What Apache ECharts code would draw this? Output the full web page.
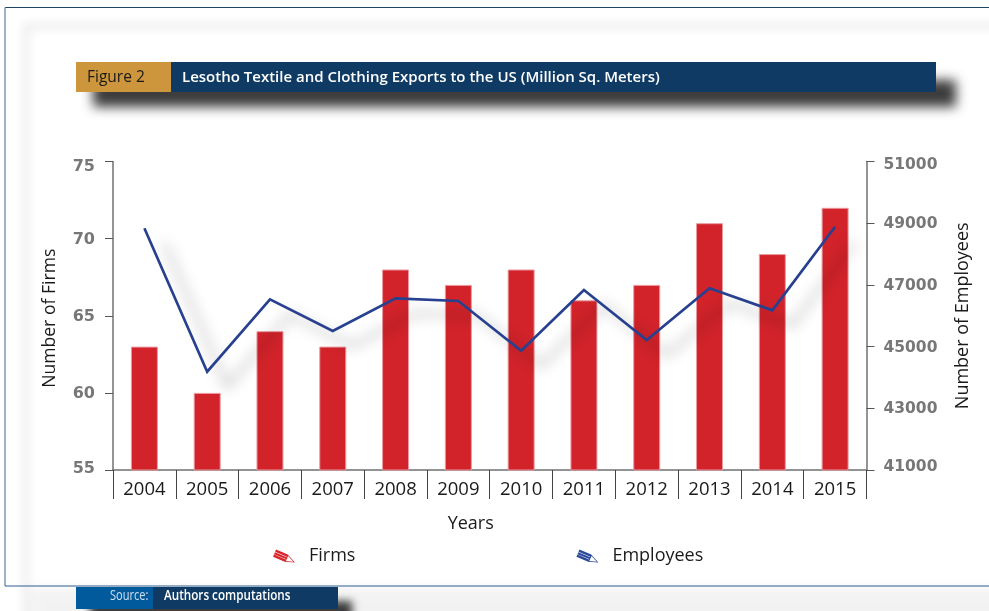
<!DOCTYPE html>
<html>
<head>
<meta charset="utf-8">
<style>html,body{margin:0;padding:0;background:#fff}#c{width:989px;height:611px}</style>
<script src="https://cdn.jsdelivr.net/npm/echarts@6/dist/echarts.min.js"></script>
</head>
<body>
<div id="c"></div>
<script>
const years = ['2004','2005','2006','2007','2008','2009','2010','2011','2012','2013','2014','2015'];
const firms = [63,60,64,63,68,67,68,66,67,71,69,72];
const employees = [48835,44186,46533,45505,46565,46478,44867,46835,45214,46890,46176,48887];
const firmTicks = {min:55,max:75,interval:5};
const employeeTicks = {min:41000,max:51000,interval:2000};

const textFont = '"Open Sans","Noto Sans",sans-serif';
const tickFont = '"DejaVu Sans"';
const navy = '#0f3a63';

// Slanted pencil: three body stripes, then the tip as a triangular ring
const pencil = 'path://M3.56 .82L15.56 5.92L14.585 8.22L2.585 3.12Z' +
  'M2.43 3.49L14.43 8.59L13.57 10.61L1.57 5.51Z' +
  'M1.415 5.88L13.415 10.98L12.44 13.28L.44 8.18Z' +
  'M15.56 5.92L23 14L12.44 13.28ZM15.96 7.36L13.72 12.66L21.32 13.18Z';

// The end labels sit slightly inside the plot, the rest on their ticks
function tickLabel(axis) {
  return function (value) {
    if (value === axis.max) return '{top|' + value + '}';
    if (value === axis.min) return '{bottom|' + value + '}';
    return '{mid|' + value + '}';
  };
}
function tickRich(size, topPad, bottomPad) {
  const base = {fontFamily:tickFont,fontWeight:'bold',fontSize:size,color:'#777'};
  return {
    top:{...base,padding:[topPad,0,0,0]},
    bottom:{...base,padding:[0,0,bottomPad,0]},
    mid:{...base,padding:[2,0,0,0]}
  };
}

const chart = echarts.init(document.getElementById('c'), null, {renderer:'canvas'});
chart.setOption({
  animation:false,
  backgroundColor:'#fff',
  grid:{left:113,right:122.5,top:161.5,bottom:141,containLabel:false},
  legend:{
    left:268,top:542,itemWidth:22,itemHeight:13,itemGap:221,
    textStyle:{fontFamily:textFont,fontSize:18,color:'#1a1a1a',padding:[0,0,0,9]},
    data:[
      {name:'Firms',icon:pencil,itemStyle:{color:'#d8262e',borderWidth:0}},
      {name:'Employees',icon:pencil,itemStyle:{color:'#2c4a9c',borderWidth:0}}
    ]
  },
  xAxis:{
    type:'category',data:years,
    name:'Years',nameLocation:'middle',nameGap:45,
    nameTextStyle:{fontFamily:textFont,fontSize:18,color:'#1a1a1a',padding:[0,38,0,0]},
    axisLine:{lineStyle:{color:'#707070',width:1.5}},
    axisTick:{show:true,length:29,alignWithLabel:false,lineStyle:{color:'#444',width:1}},
    axisLabel:{interval:0,margin:10,fontFamily:textFont,fontSize:18.5,color:'#1a1a1a'}
  },
  yAxis:[
    {type:'value',...firmTicks,position:'left',
     name:'Number of Firms',nameLocation:'middle',nameGap:54,nameRotate:90,
     nameTextStyle:{fontFamily:textFont,fontSize:17.6,color:'#1a1a1a',padding:[0,5,0,0]},
     splitLine:{show:false},
     axisLine:{show:true,lineStyle:{color:'#707070',width:1.5}},
     axisTick:{show:true,length:8,lineStyle:{color:'#555'}},
     axisLabel:{margin:18,formatter:tickLabel(firmTicks),rich:tickRich(16,10,2)}},
    {type:'value',...employeeTicks,position:'right',
     name:'Number of Employees',nameLocation:'middle',nameGap:87,nameRotate:90,
     nameTextStyle:{fontFamily:textFont,fontSize:18,color:'#1a1a1a'},
     splitLine:{show:false},
     axisLine:{show:true,lineStyle:{color:'#707070',width:1.5}},
     axisTick:{show:true,length:8,lineStyle:{color:'#555'}},
     axisLabel:{margin:17,formatter:tickLabel(employeeTicks),rich:tickRich(15.5,7,6)}}
  ],
  series:[
    {name:'Firms',type:'bar',data:firms,yAxisIndex:0,barWidth:27,
     itemStyle:{color:'#d2232a',borderColor:'#eb9aa0',borderWidth:1}},
    {name:'Employees',type:'line',data:employees,yAxisIndex:1,symbol:'none',
     lineStyle:{color:'#27408f',width:2.7,join:'miter',
       shadowColor:'rgba(0,0,0,0.38)',shadowBlur:14,shadowOffsetX:20,shadowOffsetY:15}}
  ],
  graphic:[
    // soft band just inside the page frame, cast from shapes parked off-canvas
    {type:'rect',z:-6,shape:{x:-2974,y:26,width:1400,height:800},
     style:{fill:'none',stroke:'#000',lineWidth:7,shadowColor:'rgba(0,0,0,0.07)',shadowBlur:10,shadowOffsetX:3000}},
    // strip below the frame
    {type:'rect',z:-6,shape:{x:-2970,y:587,width:1400,height:60},
     style:{fill:'#000',shadowColor:'rgba(0,0,0,0.05)',shadowBlur:12,shadowOffsetX:3000}},
    // page frame
    {type:'line',z:-4,shape:{x1:5,y1:7.5,x2:989,y2:7.5},style:{stroke:'#1e4668',lineWidth:1}},
    {type:'line',z:-4,shape:{x1:5,y1:7.5,x2:5,y2:586},style:{stroke:'#7c98b4',lineWidth:1.5}},
    {type:'line',z:-4,shape:{x1:5,y1:586,x2:989,y2:586},style:{stroke:'#2c5f8f',lineWidth:1}},
    // header band and the shadow under it
    {type:'rect',z:-3,shape:{x:-2907,y:80,width:863,height:27},
     style:{fill:'#000',shadowColor:'#3c3c3c',shadowBlur:12,shadowOffsetX:3000}},
    {type:'rect',z:-2,shape:{x:76,y:62,width:95,height:30},style:{fill:'#cd963c'}},
    {type:'rect',z:-2,shape:{x:171,y:62,width:765,height:30},style:{fill:navy}},
    {type:'text',z:-1,style:{x:87,y:78,text:'Figure 2',verticalAlign:'middle',
      font:'15.5px '+textFont,fill:'#1a1a1a'}},
    {type:'text',z:-1,style:{x:182,y:78,text:'Lesotho Textile and Clothing Exports to the US (Million Sq. Meters)',
      verticalAlign:'middle',font:'600 15px '+textFont,fill:'#fff'}},
    // source strip and its shadow
    {type:'rect',z:-3,shape:{x:-2910,y:601,width:262,height:40},
     style:{fill:'#000',shadowColor:'#3c3c3c',shadowBlur:8,shadowOffsetX:3000}},
    {type:'rect',z:-2,shape:{x:76,y:587,width:77,height:22},style:{fill:'#005a9c'}},
    {type:'rect',z:-2,shape:{x:153,y:587,width:185,height:22},style:{fill:navy}},
    {type:'text',z:-1,x:110,y:596,scaleX:0.79,style:{x:0,y:0,text:'Source:',verticalAlign:'middle',
      font:'14px '+textFont,fill:'#cfe0ef'}},
    {type:'text',z:-1,x:164,y:596,scaleX:0.835,style:{x:0,y:0,text:'Authors computations',verticalAlign:'middle',
      font:'600 14px '+textFont,fill:'#fff'}}
  ]
});
</script>
</body>
</html>
